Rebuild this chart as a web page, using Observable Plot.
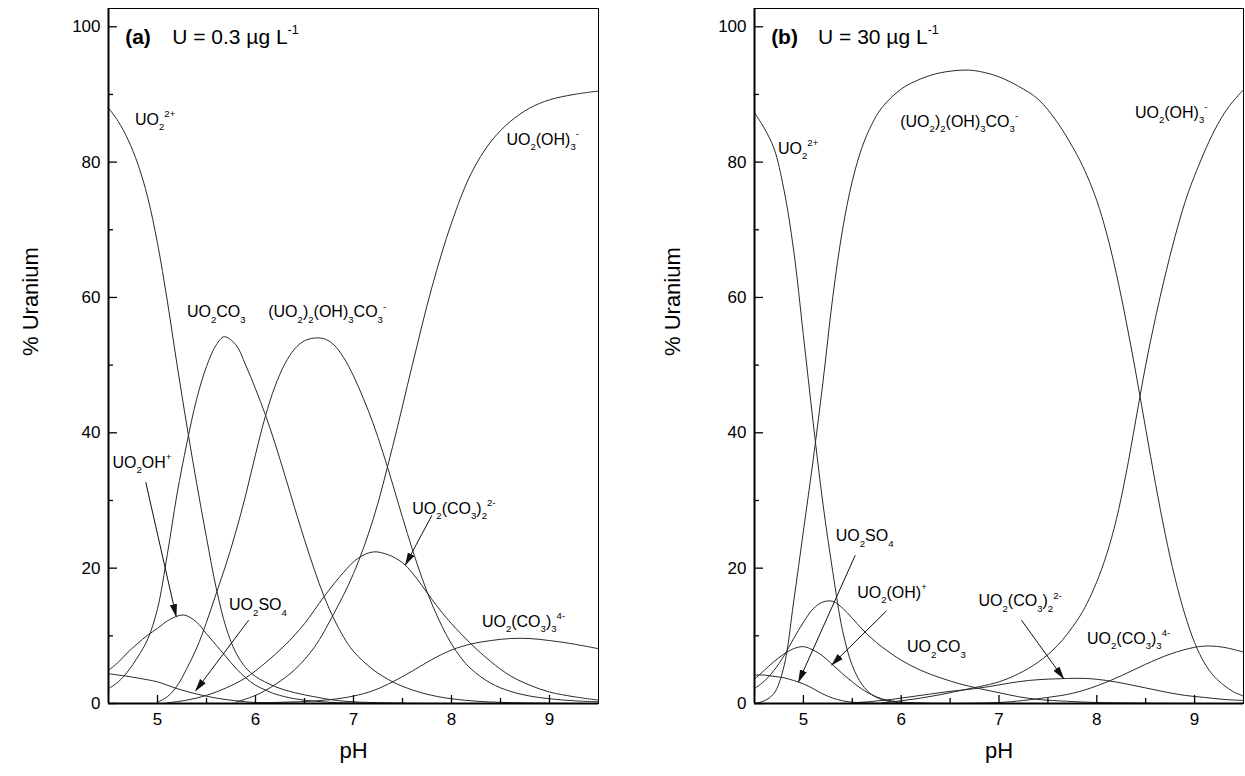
<!DOCTYPE html>
<html><head><meta charset="utf-8">
<script src="https://cdn.jsdelivr.net/npm/d3@7"></script>
<script src="https://cdn.jsdelivr.net/npm/@observablehq/plot@0.6"></script>
<style>
body{margin:0;background:#fff;}
#wrap{display:flex;width:1245px;height:776px;overflow:hidden;}
svg text{font-family:"Liberation Sans",Arial,Helvetica,sans-serif;}
</style></head><body><div id="wrap"></div>
<script>
// ---------- axis ticks ----------
const pHMajor = [5, 6, 7, 8, 9];
const pHMinor = [5.5, 6.5, 7.5, 8.5];
const pctMajor = [0, 20, 40, 60, 80, 100];
const pctMinor = [10, 30, 50, 70, 90];

// ---------- panel (a): U = 0.3 ug/L  ([pH, % uranium]) ----------
const a_UO2 = [[4.5,88],[4.6,86],[4.7,83.3],[4.8,79.7],[4.9,74.8],[5.0,68],[5.1,59.5],[5.2,50],[5.3,41],[5.4,32.5],[5.5,24.5],[5.6,17],[5.7,11.2],[5.8,7.5],[5.9,5.3],[6.0,4.0],[6.2,2.5],[6.4,1.6],[6.6,1.0],[6.8,0.5],[7.0,0.25],[7.5,0.05],[8.0,0]];
const a_UO2OH = [[4.5,4.9],[4.6,6.1],[4.7,7.6],[4.8,8.9],[4.9,10.1],[5.0,11.1],[5.1,12.2],[5.2,12.9],[5.28,13.05],[5.4,12.0],[5.5,10.3],[5.6,8.6],[5.7,6.9],[5.8,5.2],[5.9,3.8],[6.0,2.7],[6.1,2.0],[6.2,1.4],[6.4,0.7],[6.6,0.35],[6.8,0.15],[7.0,0.05],[7.5,0]];
const a_UO2SO4 = [[4.5,4.4],[4.7,4.0],[4.9,3.5],[5.0,3.2],[5.2,2.2],[5.4,1.4],[5.6,0.8],[5.8,0.4],[6.0,0.15],[6.3,0.05],[6.6,0]];
const a_UO2CO3 = [[4.5,2.2],[4.6,3.2],[4.7,4.8],[4.8,6.9],[4.9,9.5],[5.0,14],[5.1,22],[5.2,31],[5.3,38.5],[5.4,45],[5.5,49.8],[5.6,53],[5.68,54.2],[5.8,53],[5.9,50],[6.0,46.5],[6.1,42.7],[6.2,38.4],[6.3,33.7],[6.4,28.9],[6.5,24.2],[6.6,19.8],[6.7,15.8],[6.8,12.5],[6.9,9.8],[7.0,7.7],[7.2,5.0],[7.4,3.2],[7.6,2.0],[7.8,1.2],[8.0,0.7],[8.3,0.3],[8.7,0.1],[9.2,0]];
const a_UO22OH3CO3 = [[5.0,0.2],[5.1,1.0],[5.2,2.6],[5.3,5.2],[5.4,8.2],[5.5,12],[5.6,16.3],[5.7,20.6],[5.8,25.4],[5.9,30.8],[6.0,36.8],[6.1,42.4],[6.2,46.9],[6.3,50.2],[6.4,52.4],[6.5,53.6],[6.6,54.0],[6.7,53.9],[6.8,53.0],[6.9,51.1],[7.0,48.4],[7.1,45.1],[7.2,41.4],[7.3,37.1],[7.4,32.4],[7.5,27.5],[7.6,22.8],[7.7,18.5],[7.8,14.7],[7.9,11.5],[8.0,8.8],[8.1,6.7],[8.2,5.1],[8.4,3.0],[8.6,1.8],[8.8,1.1],[9.0,0.7],[9.25,0.4],[9.5,0.25]];
const a_UO2CO32 = [[5.1,0.1],[5.3,0.5],[5.5,1.2],[5.7,2.3],[5.9,3.8],[6.1,6.0],[6.3,8.6],[6.5,11.8],[6.7,15.8],[6.9,19.4],[7.05,21.5],[7.2,22.4],[7.35,22.0],[7.5,20.8],[7.6,19.3],[7.7,17.4],[7.8,15.4],[7.9,13.5],[8.0,11.8],[8.2,8.8],[8.4,6.2],[8.6,4.1],[8.8,2.7],[9.0,1.7],[9.25,1.0],[9.5,0.5]];
const a_UO2CO33 = [[6.0,0.05],[6.3,0.2],[6.5,0.3],[6.75,0.55],[7.0,1.1],[7.2,1.9],[7.4,3.2],[7.6,4.8],[7.8,6.5],[8.0,7.9],[8.2,8.8],[8.4,9.3],[8.6,9.6],[8.8,9.6],[9.0,9.3],[9.2,8.9],[9.5,8.1]];
const a_UO2OH3 = [[5.8,0.2],[6.0,1.2],[6.2,2.8],[6.4,5.0],[6.6,8.3],[6.8,13.3],[7.0,19.2],[7.2,27.2],[7.4,38],[7.6,50],[7.8,61.5],[8.0,71],[8.2,78.3],[8.4,83],[8.6,86],[8.8,88],[9.0,89.2],[9.25,90],[9.5,90.5]];

// ---------- panel (b): U = 30 ug/L ----------
const b_UO2 = [[4.5,87.3],[4.6,85],[4.7,82],[4.8,76],[4.9,67],[5.0,54.4],[5.1,41.5],[5.2,29.5],[5.3,19.5],[5.4,10.8],[5.5,5.6],[5.6,2.8],[5.7,1.3],[5.8,0.6],[5.9,0.25],[6.0,0.1],[6.3,0]];
const b_UO2OH = [[4.5,3.6],[4.6,4.9],[4.7,6.2],[4.8,7.3],[4.9,8.1],[5.0,8.4],[5.1,7.9],[5.2,7.0],[5.3,5.7],[5.4,4.4],[5.5,3.2],[5.6,2.1],[5.7,1.3],[5.8,0.7],[5.9,0.4],[6.0,0.2],[6.3,0.05],[6.6,0]];
const b_UO2SO4 = [[4.5,4.2],[4.6,4.2],[4.7,4.0],[4.8,3.8],[4.9,3.4],[5.0,2.9],[5.1,2.2],[5.2,1.4],[5.3,0.8],[5.4,0.4],[5.5,0.2],[5.7,0.05],[6.0,0]];
const b_UO2CO3 = [[4.5,2.2],[4.6,3.3],[4.7,4.9],[4.8,7],[4.9,9.6],[5.0,12],[5.1,14],[5.2,15],[5.3,15.1],[5.4,14.1],[5.5,12.6],[5.6,11],[5.7,9.6],[5.8,8.4],[6.0,6.4],[6.2,4.9],[6.4,3.8],[6.6,2.9],[6.8,2.2],[7.0,1.6],[7.2,1.0],[7.4,0.6],[7.6,0.4],[8.0,0.15],[8.5,0.05],[9.0,0]];
const b_UO22OH3CO3 = [[4.5,0],[4.6,0.4],[4.7,1.5],[4.8,5.4],[4.9,15],[5.0,25.5],[5.1,36],[5.2,47.5],[5.3,60],[5.4,70],[5.5,77.2],[5.6,82.2],[5.7,85.6],[5.8,88],[6.0,90.8],[6.2,92.3],[6.4,93.2],[6.65,93.6],[6.8,93.4],[7.0,92.6],[7.2,91.2],[7.4,89.3],[7.6,85.8],[7.8,81],[7.9,78],[8.0,74.3],[8.1,69.5],[8.2,63.5],[8.3,56.5],[8.4,48.8],[8.5,40.6],[8.6,32.5],[8.7,25],[8.8,18.5],[8.9,13.2],[9.0,9],[9.1,6],[9.2,4],[9.3,2.7],[9.4,1.7],[9.5,1.1]];
const b_UO2CO32 = [[5.5,0.1],[5.7,0.3],[5.9,0.6],[6.1,1.0],[6.3,1.4],[6.5,1.8],[6.7,2.1],[6.9,2.5],[7.1,3.0],[7.3,3.4],[7.5,3.6],[7.7,3.7],[7.9,3.7],[8.1,3.4],[8.3,2.9],[8.5,2.3],[8.7,1.7],[8.9,1.2],[9.1,0.9],[9.3,0.6],[9.5,0.45]];
const b_UO2CO33 = [[6.5,0],[7.0,0.15],[7.25,0.45],[7.5,0.9],[7.75,1.5],[8.0,2.6],[8.25,4.1],[8.5,5.8],[8.75,7.3],[9.0,8.3],[9.15,8.5],[9.3,8.3],[9.5,7.6]];
const b_UO2OH3 = [[5.8,0.1],[6.0,0.4],[6.2,0.8],[6.4,1.3],[6.6,1.9],[6.8,2.5],[7.0,3.2],[7.2,4.4],[7.4,6.1],[7.6,8.6],[7.8,12.3],[7.9,14.8],[8.0,18],[8.1,22],[8.2,27.2],[8.3,34],[8.4,42],[8.5,50],[8.6,57],[8.7,63.3],[8.8,69],[8.9,74],[9.0,78],[9.2,84.6],[9.35,88.2],[9.5,90.7]];

// ---------- labels (text, pH, % uranium); _x = subscript, ^x = superscript ----------
const labelsA = [
  {t: "UO_2^{2+}", pH: 4.77, pct: 86.3},
  {t: "UO_2(OH)_3^-", pH: 8.56, pct: 83.3},
  {t: "UO_2CO_3", pH: 5.30, pct: 57.8},
  {t: "(UO_2)_2(OH)_3CO_3^-", pH: 6.13, pct: 57.8},
  {t: "UO_2OH^+", pH: 4.54, pct: 35.6},
  {t: "UO_2SO_4", pH: 5.73, pct: 14.5},
  {t: "UO_2(CO_3)_2^{2-}", pH: 7.60, pct: 28.8},
  {t: "UO_2(CO_3)_3^{4-}", pH: 8.31, pct: 12.1}
];
const arrowsA = [
  {from: [4.88, 32.7], to: [5.19, 12.9]},
  {from: [5.93, 12.3], to: [5.39, 1.9]},
  {from: [7.80, 27.8], to: [7.53, 20.5]}
];
const labelsB = [
  {t: "UO_2^{2+}", pH: 4.74, pct: 82.0},
  {t: "(UO_2)_2(OH)_3CO_3^-", pH: 5.99, pct: 86.0},
  {t: "UO_2(OH)_3^-", pH: 8.39, pct: 87.3},
  {t: "UO_2SO_4", pH: 5.33, pct: 24.7},
  {t: "UO_2(OH)^+", pH: 5.55, pct: 16.4},
  {t: "UO_2CO_3", pH: 6.06, pct: 8.3},
  {t: "UO_2(CO_3)_2^{2-}", pH: 6.79, pct: 15.1},
  {t: "UO_2(CO_3)_3^{4-}", pH: 7.90, pct: 9.6}
];
const arrowsB = [
  {from: [5.53, 21.9], to: [4.95, 3.2]},
  {from: [5.85, 13.7], to: [5.29, 5.7]},
  {from: [7.23, 12.3], to: [7.66, 3.7]}
];

const panelA = {
  tag: "(a)", title: "U = 0.3 \u00B5g L^{-1}",
  series: {UO2: a_UO2, UO2OH: a_UO2OH, UO2SO4: a_UO2SO4, UO2CO3: a_UO2CO3, UO22OH3CO3: a_UO22OH3CO3, UO2CO32: a_UO2CO32, UO2CO33: a_UO2CO33, UO2OH3: a_UO2OH3},
  labels: labelsA, arrows: arrowsA, width: 622, marginLeft: 108, marginRight: 24, yLabelDx: -78
};
const panelB = {
  tag: "(b)", title: "U = 30 \u00B5g L^{-1}",
  series: {UO2: b_UO2, UO2OH: b_UO2OH, UO2SO4: b_UO2SO4, UO2CO3: b_UO2CO3, UO22OH3CO3: b_UO22OH3CO3, UO2CO32: b_UO2CO32, UO2CO33: b_UO2CO33, UO2OH3: b_UO2OH3},
  labels: labelsB, arrows: arrowsB, width: 623, marginLeft: 132, marginRight: 2, yLabelDx: -82
};

function arrowHead(color, context) {
  const ns = "http://www.w3.org/2000/svg";
  const m = document.createElementNS(ns, "marker");
  m.setAttribute("viewBox", "-12 -4 13 8");
  m.setAttribute("markerWidth", 13);
  m.setAttribute("markerHeight", 8);
  m.setAttribute("markerUnits", "userSpaceOnUse");
  m.setAttribute("orient", "auto");
  m.setAttribute("fill", "#111");
  m.setAttribute("stroke", "none");
  const p = document.createElementNS(ns, "path");
  p.setAttribute("d", "M-12,-3.6L1,0L-12,3.6Z");
  m.appendChild(p);
  return m;
}

// converts "UO_2^{2+}" style strings into tspans with sub/superscripts
function richify(el, fs) {
  const s = el.textContent;
  if (!/[_^]/.test(s)) return;
  const segs = [];
  let i = 0, buf = "";
  while (i < s.length) {
    const c = s[i];
    if (c === "_" || c === "^") {
      if (buf) { segs.push({t: buf, k: 0}); buf = ""; }
      let t;
      if (s[i + 1] === "{") { const j = s.indexOf("}", i); t = s.slice(i + 2, j); i = j + 1; }
      else { t = s[i + 1]; i += 2; }
      segs.push({t, k: c === "_" ? 1 : 2});
    } else { buf += c; i++; }
  }
  if (buf) segs.push({t: buf, k: 0});
  while (el.firstChild) el.removeChild(el.firstChild);
  let shift = 0;
  for (const g of segs) {
    const ts = document.createElementNS("http://www.w3.org/2000/svg", "tspan");
    const target = g.k === 1 ? 0.32 * fs : g.k === 2 ? -0.48 * fs : 0;
    ts.setAttribute("dy", (target - shift).toFixed(2));
    shift = target;
    if (g.k) ts.setAttribute("font-size", (0.6 * fs).toFixed(1));
    ts.textContent = g.t;
    el.appendChild(ts);
  }
}

function makePanel(P) {
  const height = 776, mt = 8, mb = 73;
  const plotW = P.width - P.marginLeft - P.marginRight;
  const plotH = height - mt - mb;
  const rows = Object.entries(P.series).flatMap(([id, pts]) => pts.map(([pH, pct]) => ({id, pH, pct})));
  const labelFs = 16, titleFs = 21;
  const svg = Plot.plot({
    width: P.width, height, marginLeft: P.marginLeft, marginRight: P.marginRight, marginTop: mt, marginBottom: mb,
    x: {domain: [4.5, 9.5], label: null},
    y: {domain: [0, 102.7], label: null},
    style: {background: "white", color: "black", fontFamily: "Liberation Sans, Arial, sans-serif", overflow: "visible"},
    marks: [
      Plot.line(rows, {x: "pH", y: "pct", z: "id", stroke: "#2a2a2a", strokeWidth: 1, curve: "catmull-rom", clip: true}),
      Plot.frame({stroke: "black", strokeWidth: 1}),
      Plot.ruleX([4.5], {stroke: "black", strokeWidth: 2}),
      Plot.ruleY([0], {stroke: "black", strokeWidth: 2}),
      Plot.tickY(pctMajor, {y: d => d, insetRight: plotW - 9, stroke: "black", strokeWidth: 1.3}),
      Plot.tickY(pctMinor, {y: d => d, insetRight: plotW - 5, stroke: "black", strokeWidth: 1.3}),
      Plot.tickX(pHMajor, {x: d => d, insetTop: plotH - 8, stroke: "black", strokeWidth: 1.3}),
      Plot.tickX(pHMinor, {x: d => d, insetTop: plotH - 5, stroke: "black", strokeWidth: 1.3}),
      Plot.axisY({ticks: pctMajor, tickSize: 0, tickPadding: 8, fontSize: 17, label: null, tickFormat: d => String(d)}),
      Plot.axisX({ticks: pHMajor, tickSize: 0, tickPadding: 9, fontSize: 17, label: null, tickFormat: d => String(d)}),
      Plot.text(["% Uranium"], {text: d => d, frameAnchor: "left", rotate: -90, dx: P.yLabelDx, fontSize: 22}),
      Plot.text(["pH"], {text: d => d, frameAnchor: "bottom", dy: 54, fontSize: 22}),
      Plot.text([P.tag], {text: d => d, x: 4.67, y: 98.5, textAnchor: "start", fontWeight: "bold", fontSize: titleFs}),
      Plot.text([P.title], {text: d => d, x: 5.15, y: 98.5, textAnchor: "start", fontSize: titleFs}),
      Plot.text(P.labels, {x: "pH", y: "pct", text: "t", textAnchor: "start", fontSize: labelFs}),
      Plot.link(P.arrows, {x1: d => d.from[0], y1: d => d.from[1], x2: d => d.to[0], y2: d => d.to[1], stroke: "#111", strokeWidth: 1, markerEnd: arrowHead})
    ]
  });
  svg.querySelectorAll("text").forEach(el => {
    const s = el.textContent;
    if (s.startsWith("U = ")) richify(el, titleFs);
    else richify(el, labelFs);
  });
  return svg;
}

const wrap = document.getElementById("wrap");
wrap.appendChild(makePanel(panelA));
wrap.appendChild(makePanel(panelB));
</script></body></html>
